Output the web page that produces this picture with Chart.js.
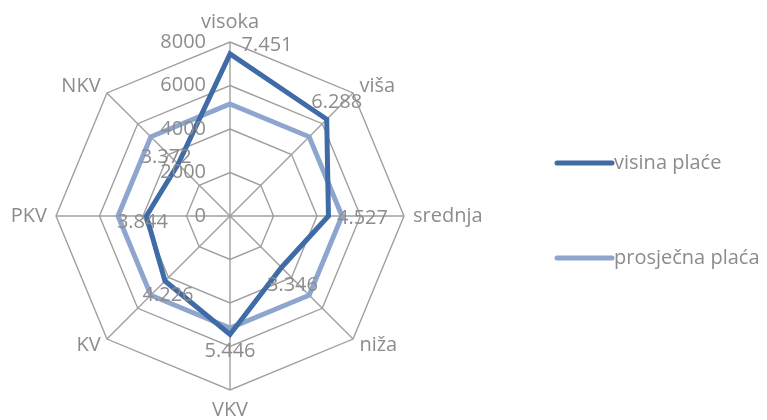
<!DOCTYPE html>
<html lang="hr">
<head>
<meta charset="UTF-8" />
<meta name="viewport" content="width=device-width, initial-scale=1.0" />
<title>Visina plaće</title>
<script src="https://cdn.jsdelivr.net/npm/chart.js"></script>
<style>
  html, body { margin: 0; padding: 0; background: #fff; }
  #wrap { width: 767px; height: 420px; }
</style>
</head>
<body>
<div id="wrap"><canvas id="chart"></canvas></div>
<script>
const categories = ['visoka', 'viša', 'srednja', 'niža', 'VKV', 'KV', 'PKV', 'NKV'];
const visinaPlace = [7451, 6288, 4527, 3346, 5446, 4226, 3844, 3372];
const prosjecnaPlaca = [5150, 5150, 5150, 5150, 5150, 5150, 5150, 5150];
const tickValues = [0, 2000, 4000, 6000, 8000];
const seriesNames = ['visina plaće', 'prosječna plaća'];

const darkBlue = '#3f6ba6';
const lightBlue = '#8ea5ce';
const gridColor = '#9f9f9f';
const textColor = '#8c8c8c';
const font = '20px "Open Sans"';

// where each value label sits relative to its point (Excel put them a bit off)
const labelOffsets = [[37, -9], [10, -17], [34, 2], [11, 18], [0, 17], [3, 14], [-4, 6], [-12, -7]];

function fmt(v) {
  return v.toLocaleString('de-DE');
}

const overlay = {
  id: 'overlay',
  afterDatasetsDraw(chart) {
    const ctx = chart.ctx;
    const r = chart.scales.r;
    ctx.save();
    ctx.font = font;
    ctx.fillStyle = textColor;

    // axis tick numbers, left of the vertical spoke
    ctx.textAlign = 'right';
    ctx.textBaseline = 'middle';
    tickValues.forEach(v => {
      const d = r.getDistanceFromCenterForValue(v);
      ctx.fillText(String(v), r.xCenter - 24, r.yCenter - d);
    });

    // category names around the web
    categories.forEach((c, i) => {
      const top = i === 0 || i === 4;
      const p = r.getPointPosition(i, r.drawingArea + (top ? 20 : 9));
      ctx.textAlign = top ? 'center' : (p.x > r.xCenter ? 'left' : 'right');
      ctx.fillText(c, p.x, p.y);
    });

    // data labels of the first series
    ctx.textAlign = 'center';
    const meta = chart.getDatasetMeta(0);
    meta.data.forEach((pt, i) => {
      const [dx, dy] = labelOffsets[i];
      ctx.fillText(fmt(visinaPlace[i]), pt.x + dx, pt.y + dy);
    });

    // legend
    const colors = [darkBlue, lightBlue];
    const ys = [163, 258];
    seriesNames.forEach((name, i) => {
      ctx.strokeStyle = colors[i];
      ctx.lineWidth = 5;
      ctx.lineCap = 'round';
      ctx.beginPath();
      ctx.moveTo(557, ys[i]);
      ctx.lineTo(612, ys[i]);
      ctx.stroke();
      ctx.textAlign = 'left';
      ctx.fillText(name, 614, ys[i]);
    });
    ctx.restore();
  }
};

new Chart(document.getElementById('chart'), {
  type: 'radar',
  data: {
    labels: categories,
    datasets: [
      {
        label: seriesNames[0],
        data: visinaPlace,
        borderColor: darkBlue,
        borderWidth: 5,
        pointRadius: 0,
        fill: false
      },
      {
        label: seriesNames[1],
        data: prosjecnaPlaca,
        borderColor: lightBlue,
        borderWidth: 5,
        pointRadius: 0,
        fill: false
      }
    ]
  },
  options: {
    responsive: true,
    maintainAspectRatio: false,
    animation: false,
    layout: { padding: { left: 56, right: 363, top: 42, bottom: 30 } },
    plugins: {
      legend: { display: false },
      tooltip: { enabled: false }
    },
    scales: {
      r: {
        min: 0,
        max: 8000,
        ticks: { stepSize: 2000, display: false },
        grid: { color: gridColor, lineWidth: 1.4 },
        angleLines: { color: gridColor, lineWidth: 1.4 },
        pointLabels: { display: false }
      }
    }
  },
  plugins: [overlay]
});
</script>
</body>
</html>
